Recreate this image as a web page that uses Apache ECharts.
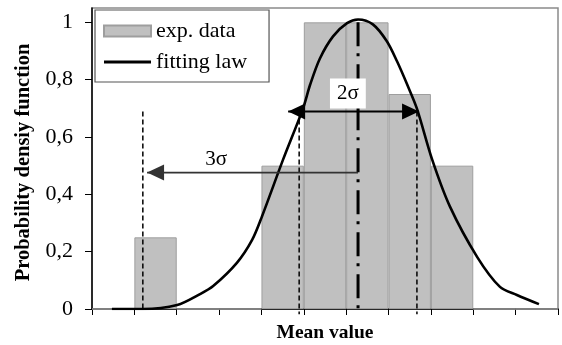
<!DOCTYPE html>
<html>
<head>
<meta charset="utf-8">
<style>
  html, body { margin: 0; padding: 0; background: #fff; }
  #chart { width: 562px; height: 345px; }
</style>
<script src="https://cdn.jsdelivr.net/npm/echarts@6/dist/echarts.min.js"></script>
</head>
<body>
<div id="chart"></div>
<script>
// Histogram bins (class index) and measured relative frequency
const categories = ['1', '2', '3', '4', '5', '6', '7', '8', '9', '10', '11'];
const expData = [0, 0.25, 0, 0, 0.5, 1, 1, 0.75, 0.5, 0, 0];

// Fitted density curve, x measured in bin units from the left edge
const fitX = [0.47, 1.20, 2.01, 2.55, 2.86, 3.42, 3.78, 4.01, 4.51, 4.98, 5.15, 5.38, 5.69, 6.02, 6.28, 6.63, 6.96, 7.20, 7.44, 7.67, 8.03, 8.45, 9.09, 9.63, 10.03, 10.55];
const fitY = [0, 0, 0.014, 0.052, 0.080, 0.161, 0.241, 0.322, 0.521, 0.699, 0.783, 0.874, 0.951, 0.997, 1.010, 0.993, 0.934, 0.864, 0.783, 0.699, 0.521, 0.357, 0.182, 0.077, 0.049, 0.017];

// Y axis ticks
const yTicks = [0, 0.2, 0.4, 0.6, 0.8, 1];

// Mean line and sigma guides (x in bin units, y in density units)
const meanX = 6.28;
const meanTop = 1.0;
const meanBottom = -0.02;
const guideX = [1.20, 4.89, 7.67];
const guideTop = [0.689, 0.689, 0.689];
const guideBottom = [0, -0.018, -0.018];

// Arrows: start x, end x, y, number of heads (1 = head at end, 2 = both ends)
const arrowFrom = [6.28, 4.63];
const arrowTo = [1.30, 7.72];
const arrowY = [0.476, 0.689];
const arrowHeads = [1, 2];
const arrowColor = ['#333', '#000'];

// Sigma labels
const sigmaLabels = ['3σ', '2σ'];
const sigmaLabelX = [2.93, 6.04];
const sigmaLabelY = [0.538, 0.769];
const sigmaLabelBox = ['transparent', '#fff'];

const serif = 'Liberation Serif';

// Horizontal stroke used as the legend sample of the fitted curve (47 x 11 box)
const lineIcon = 'path://M0,0 L47,0 L47,0.01 L0,0.01 Z M0,4 L47,4 L47,7 L0,7 Z M0,10.99 L47,10.99 L47,11 L0,11 Z';

const chart = echarts.init(document.getElementById('chart'), null, { renderer: 'canvas' });

const fitData = fitX.map((x, i) => [x, fitY[i]]);
const guideData = guideX.map((x, i) => [x, guideTop[i], guideBottom[i]]);
const arrowData = arrowFrom.map((x, i) => [x, arrowTo[i], arrowY[i], arrowHeads[i], i]);
const labelData = sigmaLabels.map((t, i) => ({
  name: t,
  value: [sigmaLabelX[i], sigmaLabelY[i]],
  label: { backgroundColor: sigmaLabelBox[i] }
}));

function arrowHead(tip, dir, color) {
  const len = 17, half = 8;
  const bx = tip[0] - dir * len;
  return {
    type: 'polygon',
    shape: { points: [[tip[0], tip[1]], [bx, tip[1] - half], [bx, tip[1] + half]] },
    style: { fill: color }
  };
}

const option = {
  animation: false,
  backgroundColor: '#fff',
  grid: {
    left: 92, top: 8, right: 4, bottom: 36,
    outerBoundsMode: 'none',
    containLabel: false,
    show: true, borderColor: '#8a8a8a', borderWidth: 1.5, backgroundColor: 'transparent'
  },
  legend: {
    data: [
      { name: 'exp. data', icon: 'rect' },
      { name: 'fitting law', icon: lineIcon, itemStyle: { color: '#000', borderWidth: 0 } }
    ],
    orient: 'vertical',
    left: 95, top: 10,
    padding: [10, 22, 9, 8],
    itemGap: 9,
    itemWidth: 47, itemHeight: 11,
    symbolKeepAspect: false,
    borderColor: '#555', borderWidth: 1.2,
    backgroundColor: '#fff',
    textStyle: { fontFamily: serif, fontSize: 22, color: '#000', lineHeight: 22 }
  },
  xAxis: [
    {
      type: 'category',
      data: categories,
      boundaryGap: true,
      name: 'Mean value',
      nameLocation: 'middle',
      nameGap: 14,
      nameTextStyle: { fontFamily: serif, fontSize: 19.5, fontWeight: 'bold', color: '#000' },
      axisLine: { lineStyle: { color: '#000', width: 1.5 } },
      axisTick: { show: true, length: 6, lineStyle: { color: '#000', width: 1 } },
      axisLabel: { show: false },
      splitLine: { show: false }
    },
    {
      type: 'value',
      min: 0, max: 11,
      show: false
    }
  ],
  yAxis: {
    type: 'value',
    min: 0, max: 1.05,
    interval: 0.2,
    name: 'Probability densiy function',
    nameLocation: 'middle',
    nameGap: 58,
    nameTextStyle: { fontFamily: serif, fontSize: 20.5, fontWeight: 'bold', color: '#000', padding: [0, 8, 0, 0] },
    axisLine: { show: true, lineStyle: { color: '#000', width: 1.5 } },
    axisTick: { show: true, length: 7, customValues: yTicks, lineStyle: { color: '#000', width: 1 } },
    axisLabel: {
      customValues: yTicks,
      margin: 19,
      fontFamily: serif, fontSize: 22, color: '#000',
      formatter: v => String(Math.round(v * 10) / 10).replace('.', ',')
    },
    splitLine: { show: false }
  },
  series: [
    {
      name: 'exp. data',
      type: 'bar',
      xAxisIndex: 0,
      data: expData,
      barCategoryGap: '0%',
      itemStyle: { color: '#c0c0c0', borderColor: '#9e9e9e', borderWidth: 1 },
      z: 1
    },
    {
      name: 'fitting law',
      type: 'line',
      xAxisIndex: 1,
      data: fitData,
      symbol: 'none',
      smooth: 0.3,
      lineStyle: { color: '#000', width: 2.6 },
      itemStyle: { color: '#000' },
      z: 5
    },
    {
      // dashed sigma guides
      type: 'custom',
      xAxisIndex: 1,
      data: guideData,
      clip: false,
      z: 4,
      renderItem(params, api) {
        const a = api.coord([api.value(0), api.value(1)]);
        const b = api.coord([api.value(0), api.value(2)]);
        return {
          type: 'line',
          shape: { x1: a[0], y1: a[1], x2: b[0], y2: b[1] },
          style: { stroke: '#000', lineWidth: 1.5, lineDash: [5, 3] }
        };
      }
    },
    {
      // mean value line (dash-dot)
      type: 'custom',
      xAxisIndex: 1,
      data: [[meanX, meanTop, meanBottom]],
      clip: false,
      z: 4,
      renderItem(params, api) {
        const a = api.coord([api.value(0), api.value(1)]);
        const b = api.coord([api.value(0), api.value(2)]);
        return {
          type: 'line',
          shape: { x1: a[0], y1: a[1], x2: b[0], y2: b[1] },
          style: { stroke: '#000', lineWidth: 3, lineDash: [24, 7, 3, 8] }
        };
      }
    },
    {
      // sigma arrows
      type: 'custom',
      xAxisIndex: 1,
      data: arrowData,
      clip: false,
      z: 6,
      renderItem(params, api) {
        const a = api.coord([api.value(0), api.value(2)]);
        const b = api.coord([api.value(1), api.value(2)]);
        const color = arrowColor[api.value(4)];
        const dir = b[0] > a[0] ? 1 : -1;
        const children = [{
          type: 'line',
          shape: { x1: a[0], y1: a[1], x2: b[0], y2: b[1] },
          style: { stroke: color, lineWidth: 1.8 }
        }, arrowHead(b, dir, color)];
        if (api.value(3) === 2) children.push(arrowHead(a, -dir, color));
        return { type: 'group', children };
      }
    },
    {
      // sigma labels
      type: 'scatter',
      xAxisIndex: 1,
      data: labelData,
      symbolSize: 0,
      itemStyle: { opacity: 1 },
      z: 7,
      label: {
        show: true,
        position: 'inside',
        offset: [0, 5],
        formatter: '{b}',
        fontFamily: serif,
        fontSize: 21,
        color: '#000',
        padding: [5, 7, 4, 7]
      }
    }
  ]
};

chart.setOption(option);
</script>
</body>
</html>
